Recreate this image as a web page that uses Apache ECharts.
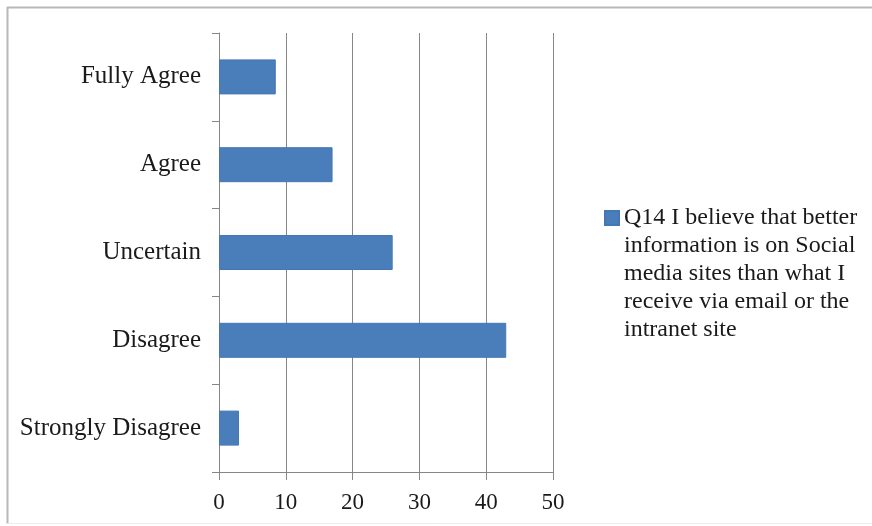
<!DOCTYPE html>
<html>
<head>
<meta charset="utf-8">
<script src="https://cdn.jsdelivr.net/npm/echarts@6/dist/echarts.min.js"></script>
<style>
  html, body { margin: 0; padding: 0; background: #fff; }
  #chart { width: 872px; height: 526px; }
</style>
</head>
<body>
<div id="chart"></div>
<script>
// Survey responses, listed bottom to top as they appear on the category axis
const categories = ['Strongly Disagree', 'Disagree', 'Uncertain', 'Agree', 'Fully Agree'];
const responses = [3, 43, 26, 17, 8.5];
const seriesName = 'Q14 I believe that better information is on Social media sites than what I receive via email or the intranet site';
const legendLines = ['Q14 I believe that better', 'information is on Social', 'media sites than what I', 'receive via email or the', 'intranet site'];

const font = '"Liberation Serif", "Times New Roman", serif';
const axisGray = '#868686';
const lineH = 28;
const blockH = lineH * legendLines.length;

// legend marker: a 14px square beside the first text line; the bare
// move-to points stretch the path box to the full text block height
const legendIcon = 'path://M0,0 M0,7h14v14h-14z M0,' + blockH;

const chart = echarts.init(document.getElementById('chart'));
chart.setOption({
  animation: false,
  backgroundColor: '#fff',
  graphic: [
    // outer chart frame (top and left edges visible)
    { type: 'line', shape: { x1: 7, y1: 7.5, x2: 872, y2: 7.5 }, style: { stroke: '#b8b8b8', lineWidth: 2 } },
    { type: 'line', shape: { x1: 7.5, y1: 7, x2: 7.5, y2: 524 }, style: { stroke: '#b8b8b8', lineWidth: 2 } },
    { type: 'line', shape: { x1: 7, y1: 523.5, x2: 872, y2: 523.5 }, style: { stroke: '#ececec', lineWidth: 1 } }
  ],
  grid: { left: 219, right: 319, top: 33, bottom: 54, containLabel: false },
  legend: {
    data: [seriesName],
    left: 604,
    top: 203,
    padding: 0,
    orient: 'vertical',
    itemWidth: 14,
    itemHeight: blockH,
    itemGap: 0,
    icon: legendIcon,
    symbolKeepAspect: false,
    selectedMode: false,
    formatter: () => legendLines.join('\n'),
    textStyle: {
      fontFamily: font,
      fontSize: 24,
      lineHeight: lineH,
      color: '#1a1a1a'
    }
  },
  xAxis: {
    type: 'value',
    min: 0,
    max: 50,
    interval: 10,
    axisLine: { show: true, lineStyle: { color: axisGray, width: 1 } },
    axisTick: { show: true, length: 8, lineStyle: { color: axisGray } },
    splitLine: { show: true, lineStyle: { color: axisGray, width: 1 } },
    axisLabel: { fontFamily: font, fontSize: 23, color: '#1a1a1a', margin: 19 }
  },
  yAxis: {
    type: 'category',
    data: categories,
    axisLine: { show: true, lineStyle: { color: axisGray, width: 1 } },
    axisTick: { show: true, length: 7, lineStyle: { color: axisGray } },
    axisLabel: { fontFamily: font, fontSize: 25, color: '#1a1a1a', margin: 18 }
  },
  series: [{
    name: seriesName,
    type: 'bar',
    data: responses,
    barWidth: 35,
    itemStyle: { color: '#4a7ebb', borderColor: '#4577b2', borderWidth: 1 }
  }]
});
</script>
</body>
</html>
